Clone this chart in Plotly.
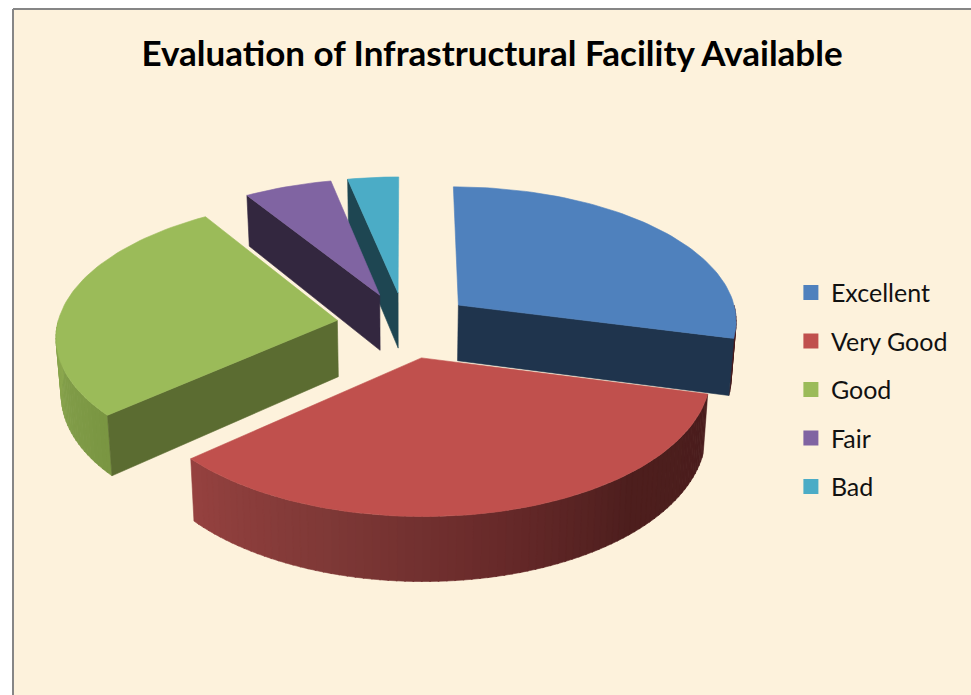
import math
import plotly.graph_objects as go

categories = ["Excellent", "Very Good", "Good", "Fair", "Bad"]
values = [29, 34.5, 27.5, 5.7, 3.3]
title_text = "Evaluation of Infrastructural Facility Available"

top_colors = ["#4f81bd", "#c0504d", "#9bbb59", "#8064a2", "#4bacc6"]
face_colors = ["#1f344d", "#4a1d1d", "#5b6c31", "#33273f", "#1e4652"]
# outer-wall shade as (screen-relative position across the pie, colour)
wall_ramps = [
    [(0.0, (74, 29, 29)), (1.0, (74, 29, 29))],
    [(0.0, (150, 66, 64)), (0.25, (127, 57, 55)), (0.5, (104, 42, 42)), (0.72, (78, 31, 30)), (1.0, (74, 29, 29))],
    [(0.0, (140, 168, 78)), (0.6, (128, 156, 72)), (1.0, (122, 150, 66))],
    [(0.0, (51, 39, 63)), (1.0, (51, 39, 63))],
    [(0.0, (30, 70, 82)), (1.0, (30, 70, 82))],
]

# projection of the tilted pie
CX, CY = 405, 325
RX, RY = 280, 134.6
PERSP = 0.105
PULL = 0.245
DEPTH = 56.5
DRAW_ORDER = [4, 3, 0, 2, 1]


def top(U, V):
    k = 1 / (1 - PERSP * V)
    return CX + RX * U * k, CY + RY * V * k


def bottom(U, V):
    k = 1 / (1 - PERSP * V)
    x, y = top(U, V)
    return CX + (x - CX) * 0.985, y + DEPTH * k


def unit(deg):
    a = math.radians(deg)
    return math.sin(a), -math.cos(a)


def shade(ramp, t):
    t = min(1, max(0, t))
    for (t0, c0), (t1, c1) in zip(ramp, ramp[1:]):
        if t <= t1:
            f = (t - t0) / (t1 - t0)
            return "rgb(%d,%d,%d)" % tuple(c0[i] + (c1[i] - c0[i]) * f for i in range(3))
    return "rgb(%d,%d,%d)" % ramp[-1][1]


fig = go.Figure()


def poly(pts, color, name):
    fig.add_trace(go.Scatter(
        x=[p[0] for p in pts] + [pts[0][0]], y=[p[1] for p in pts] + [pts[0][1]],
        mode="lines", fill="toself", fillcolor=color,
        line=dict(color=color, width=0.6), showlegend=False,
        hoverinfo="text", text=name,
    ))


total = sum(values)
starts = []
acc = 0
for v in values:
    starts.append(acc)
    acc += v

for i in DRAW_ORDER:
    a0 = 360 * starts[i] / total
    a1 = 360 * (starts[i] + values[i]) / total
    mu, mv = unit((a0 + a1) / 2)
    ox, oy = mu * PULL, mv * PULL

    # outer wall, only the part that faces the viewer, in shaded strips
    w0, w1 = max(a0, 90), min(a1, 270)
    if w1 > w0:
        n = max(2, int((w1 - w0) / 1.5))
        for k in range(n):
            b0 = w0 + (w1 - w0) * k / n
            b1 = w0 + (w1 - w0) * (k + 1.15) / n
            b1 = min(b1, w1)
            u0, v0 = unit(b0)
            u1, v1 = unit(b1)
            t = (w1 - (b0 + b1) / 2) / (w1 - w0)
            pts = [top(ox + u0, oy + v0), top(ox + u1, oy + v1),
                   bottom(ox + u1, oy + v1), bottom(ox + u0, oy + v0)]
            poly(pts, shade(wall_ramps[i], t), categories[i])

    # radial cut faces that face the viewer
    for ang, visible in ((a0, math.sin(math.radians(a0)) < -1e-6),
                         (a1, math.sin(math.radians(a1)) > 1e-6)):
        if visible:
            u, v = unit(ang)
            poly([top(ox, oy), top(ox + u, oy + v), bottom(ox + u, oy + v), bottom(ox, oy)],
                 face_colors[i], categories[i])

    # top surface
    n = max(4, int((a1 - a0) / 1.5))
    pts = [top(ox, oy)]
    for k in range(n + 1):
        u, v = unit(a0 + (a1 - a0) * k / n)
        pts.append(top(ox + u, oy + v))
    poly(pts, top_colors[i], categories[i])

# legend entries
for name, col in zip(categories, top_colors):
    fig.add_trace(go.Scatter(
        x=[None], y=[None], mode="markers", name=name, legendgroup=name,
        marker=dict(symbol="square", size=15, color=col),
    ))

fig.update_layout(
    width=971, height=695,
    margin=dict(l=13, r=0, t=9, b=0),
    paper_bgcolor="#ffffff",
    plot_bgcolor="#fdf2dc",
    font=dict(family="Lato, Noto Sans, sans-serif", color="#000000"),
    title=dict(text="<b>%s</b>" % title_text, x=0.5, xref="paper", xanchor="center",
               y=0.923, yanchor="middle", font=dict(size=35, family="Lato, sans-serif")),
    legend=dict(
        x=0.812, y=0.62, xanchor="left", yanchor="top",
        font=dict(size=25, family="Lato, sans-serif", color="#111111"),
        tracegroupgap=13, bgcolor="rgba(0,0,0,0)", itemwidth=30,
    ),
    showlegend=True,
    xaxis=dict(range=[13, 971], visible=False, fixedrange=True),
    yaxis=dict(range=[695, 9], visible=False, fixedrange=True),
    shapes=[
        dict(type="line", xref="paper", yref="paper", x0=0, x1=0, y0=0, y1=1,
             line=dict(color="#868686", width=2)),
        dict(type="line", xref="paper", yref="paper", x0=0, x1=1, y0=1, y1=1,
             line=dict(color="#868686", width=2)),
    ],
)
fig.write_html("out.html", config=dict(displayModeBar=False),
               post_script="document.body.style.margin='0';document.body.style.overflow='hidden';")
